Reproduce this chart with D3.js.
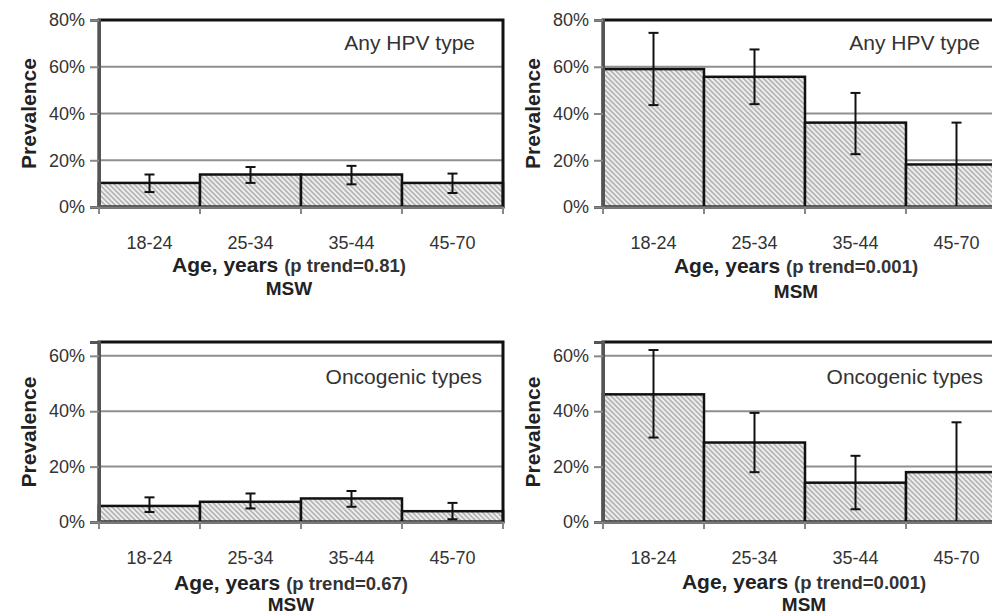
<!DOCTYPE html>
<html>
<head>
<meta charset="utf-8">
<script src="https://cdn.jsdelivr.net/npm/d3@7/dist/d3.min.js"></script>
<style>
body { margin: 0; background: #fff; }
svg { display: block; font-family: "Liberation Sans", Arial, sans-serif; }
</style>
</head>
<body>
<div id="chart"></div>
<script>
var ageGroups = ['18-24', '25-34', '35-44', '45-70'];

// prevalence in %, with lower/upper CI
var mswAny = [10.3, 13.9, 13.9, 10.3];
var mswAnyLow = [6.4, 10.3, 9.7, 6.0];
var mswAnyHigh = [13.9, 17.1, 17.6, 14.3];

var msmAny = [59.0, 55.7, 36.1, 18.2];
var msmAnyLow = [43.6, 44.0, 22.6, 0];
var msmAnyHigh = [74.5, 67.4, 48.8, 36.1];

var mswOnc = [5.8, 7.3, 8.5, 3.9];
var mswOncLow = [3.6, 4.9, 5.5, 1.0];
var mswOncHigh = [8.9, 10.3, 11.2, 6.9];

var msmOnc = [46.1, 28.7, 14.2, 18.0];
var msmOncLow = [30.5, 18.0, 4.6, 0];
var msmOncHigh = [62.1, 39.4, 23.9, 36.0];

var topTicks = [0, 20, 40, 60, 80];
var bottomTicks = [0, 20, 40, 60];

var w = 992;
var h = 616;

var svg = d3.select('#chart')
	.append('svg')
	.attr('width', w)
	.attr('height', h);

var pat = svg.append('defs')
	.append('pattern')
	.attr('id', 'hatch')
	.attr('patternUnits', 'userSpaceOnUse')
	.attr('width', 5)
	.attr('height', 5);
pat.append('rect')
	.attr('width', 5)
	.attr('height', 5)
	.attr('fill', '#efefef');
pat.append('path')
	.attr('d', 'M0,0L5,5M-1,4L1,6M4,-1L6,1')
	.attr('stroke', '#b4b4b4')
	.attr('stroke-width', 1.6);

function drawPanel(p) {
	var x = d3.scaleBand()
		.domain(ageGroups)
		.range([p.left, p.left + 404])
		.padding(0);
	var y = d3.scaleLinear()
		.domain([0, p.yMax])
		.range([p.bottom, p.top]);

	var g = svg.append('g');

	// gridlines
	g.selectAll('line.grid')
		.data(p.ticks.slice(1))
		.enter()
		.append('line')
		.attr('x1', x.range()[0])
		.attr('x2', x.range()[1])
		.attr('y1', function (d) { return y(d); })
		.attr('y2', function (d) { return y(d); })
		.attr('stroke', '#8f8f8f')
		.attr('stroke-width', 2);

	// bars
	g.selectAll('rect.bar')
		.data(p.values)
		.enter()
		.append('rect')
		.attr('x', function (d, i) { return x(ageGroups[i]); })
		.attr('y', function (d) { return y(d); })
		.attr('width', x.bandwidth())
		.attr('height', function (d) { return y(0) - y(d); })
		.attr('fill', 'url(#hatch)')
		.attr('stroke', '#111')
		.attr('stroke-width', 2.5);

	// plot frame
	g.append('rect')
		.attr('x', x.range()[0])
		.attr('y', y(p.yMax))
		.attr('width', x.range()[1] - x.range()[0])
		.attr('height', y(0) - y(p.yMax))
		.attr('fill', 'none')
		.attr('stroke', '#111')
		.attr('stroke-width', 3);

	// error bars
	var eb = g.selectAll('g.err')
		.data(p.values)
		.enter()
		.append('g')
		.attr('stroke', '#111')
		.attr('stroke-width', 2);
	eb.append('line')
		.attr('x1', function (d, i) { return x(ageGroups[i]) + x.bandwidth() / 2; })
		.attr('x2', function (d, i) { return x(ageGroups[i]) + x.bandwidth() / 2; })
		.attr('y1', function (d, i) { return y(p.low[i]); })
		.attr('y2', function (d, i) { return y(p.high[i]); });
	eb.append('line')
		.attr('x1', function (d, i) { return x(ageGroups[i]) + x.bandwidth() / 2 - 5; })
		.attr('x2', function (d, i) { return x(ageGroups[i]) + x.bandwidth() / 2 + 5; })
		.attr('y1', function (d, i) { return y(p.high[i]); })
		.attr('y2', function (d, i) { return y(p.high[i]); });
	eb.append('line')
		.attr('x1', function (d, i) { return x(ageGroups[i]) + x.bandwidth() / 2 - 5; })
		.attr('x2', function (d, i) { return x(ageGroups[i]) + x.bandwidth() / 2 + 5; })
		.attr('y1', function (d, i) { return y(p.low[i]); })
		.attr('y2', function (d, i) { return y(p.low[i]); });

	// y axis
	var yAxis = g.append('g')
		.attr('transform', 'translate(' + x.range()[0] + ',0)')
		.call(d3.axisLeft(y)
			.tickValues(p.ticks)
			.tickSize(9)
			.tickPadding(5)
			.tickFormat(function (d) { return d + '%'; }));
	yAxis.select('.domain')
		.attr('stroke', '#555')
		.attr('stroke-width', 3);
	yAxis.selectAll('.tick line')
		.attr('stroke', '#888')
		.attr('stroke-width', 2);
	yAxis.selectAll('.tick text')
		.attr('font-size', '18px')
		.attr('fill', '#333')
		.attr('font-family', '"Liberation Sans", Arial, sans-serif');

	// x axis
	var xAxis = g.append('g')
		.attr('transform', 'translate(0,' + y(0) + ')')
		.call(d3.axisBottom(x).tickSize(0).tickPadding(p.tickPad));
	xAxis.select('.domain')
		.attr('stroke', '#7a7a7a')
		.attr('stroke-width', 2.5);
	xAxis.selectAll('.tick text')
		.attr('font-size', '18px')
		.attr('fill', '#333')
		.attr('font-family', '"Liberation Sans", Arial, sans-serif');
	g.selectAll('line.edge')
		.data(ageGroups.concat(['end']))
		.enter()
		.append('line')
		.attr('x1', function (d) { return d === 'end' ? x.range()[1] : x(d); })
		.attr('x2', function (d) { return d === 'end' ? x.range()[1] : x(d); })
		.attr('y1', y(0))
		.attr('y2', y(0) + 7)
		.attr('stroke', '#888')
		.attr('stroke-width', 2);

	// y title
	g.append('text')
		.attr('transform', 'translate(' + (x.range()[0] - 63) + ',' + ((y(0) + y(p.yMax)) / 2) + ') rotate(-90)')
		.attr('text-anchor', 'middle')
		.attr('font-size', '21px')
		.attr('font-weight', 'bold')
		.attr('fill', '#222')
		.text('Prevalence');

	// label inside plot
	g.append('text')
		.attr('x', x.range()[1] - p.labelInset)
		.attr('y', p.labelY)
		.attr('text-anchor', 'end')
		.attr('font-size', '21px')
		.attr('fill', '#333')
		.text(p.label);

	// x titles
	var t = g.append('text')
		.attr('x', p.titleX)
		.attr('y', p.titleY)
		.attr('text-anchor', 'middle')
		.attr('font-weight', 'bold')
		.attr('fill', '#222');
	t.append('tspan').attr('font-size', '21px').text('Age, years ');
	t.append('tspan').attr('font-size', '18.5px').attr('fill', '#333').text('(p trend=' + p.trend + ')');

	g.append('text')
		.attr('x', p.titleX)
		.attr('y', p.groupY)
		.attr('text-anchor', 'middle')
		.attr('font-size', '19px')
		.attr('font-weight', 'bold')
		.attr('fill', '#222')
		.text(p.group);
}

drawPanel({left: 99, top: 20, bottom: 207, yMax: 80, ticks: topTicks,
	values: mswAny, low: mswAnyLow, high: mswAnyHigh,
	label: 'Any HPV type', labelInset: 28, labelY: 50,
	trend: '0.81', group: 'MSW', titleX: 289, titleY: 272, groupY: 295, tickPad: 29});
drawPanel({left: 603, top: 20, bottom: 207, yMax: 80, ticks: topTicks,
	values: msmAny, low: msmAnyLow, high: msmAnyHigh,
	label: 'Any HPV type', labelInset: 27, labelY: 50,
	trend: '0.001', group: 'MSM', titleX: 796, titleY: 273, groupY: 298, tickPad: 29});
drawPanel({left: 99, top: 342, bottom: 522, yMax: 65, ticks: bottomTicks,
	values: mswOnc, low: mswOncLow, high: mswOncHigh,
	label: 'Oncogenic types', labelInset: 21, labelY: 384,
	trend: '0.67', group: 'MSW', titleX: 291, titleY: 590, groupY: 611, tickPad: 29});
drawPanel({left: 603, top: 342, bottom: 522, yMax: 65, ticks: bottomTicks,
	values: msmOnc, low: msmOncLow, high: msmOncHigh,
	label: 'Oncogenic types', labelInset: 24, labelY: 384,
	trend: '0.001', group: 'MSM', titleX: 804, titleY: 589, groupY: 611, tickPad: 29});
</script>
</body>
</html>
